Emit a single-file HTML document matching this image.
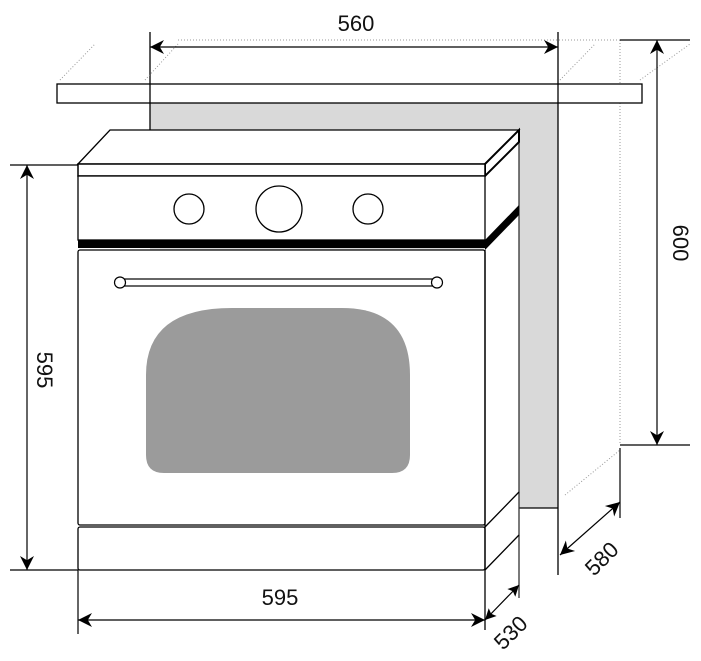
<!DOCTYPE html>
<html><head><meta charset="utf-8"><style>
html,body{margin:0;padding:0;background:#fff;}
svg{display:block;}
text{font-family:"Liberation Sans",sans-serif;font-size:22px;fill:#111;}
</style></head><body>
<svg width="701" height="661" viewBox="0 0 701 661" xmlns="http://www.w3.org/2000/svg">
<defs>
<marker id="a" viewBox="0 0 10 10" refX="10" refY="5" markerWidth="14" markerHeight="11" orient="auto-start-reverse" markerUnits="userSpaceOnUse"><path d="M0,0 L10,5 L0,10 L2,5 z" fill="#000"/></marker>
<marker id="b" viewBox="0 0 10 10" refX="10" refY="5" markerWidth="20" markerHeight="14" orient="auto-start-reverse" markerUnits="userSpaceOnUse"><path d="M0,0 L10,5 L0,10 L3,5 z" fill="#000"/></marker>
</defs>
<rect x="150" y="103" width="408" height="405" fill="#d9d9d9"/>
<line x1="150" y1="32" x2="150" y2="130" stroke="#000" stroke-width="1.3"/>
<line x1="558" y1="32" x2="558" y2="575" stroke="#000" stroke-width="1.3"/>
<line x1="512" y1="508" x2="558" y2="508" stroke="#000" stroke-width="1.2"/>
<g stroke="#999" stroke-width="1" stroke-dasharray="1,2" fill="none">
<line x1="178" y1="40" x2="620" y2="40"/>
<line x1="620" y1="40" x2="620" y2="445"/>
<line x1="60" y1="80" x2="95" y2="44"/>
<line x1="145" y1="80" x2="178" y2="44"/>
<line x1="560" y1="80" x2="595" y2="44"/>
<line x1="640" y1="80" x2="690" y2="44"/>
<line x1="565" y1="495" x2="620" y2="450"/>
</g>
<rect x="57" y="84" width="585" height="19" fill="#fff" stroke="#000" stroke-width="1.3"/>
<line x1="150" y1="84" x2="150" y2="103" stroke="#000" stroke-width="1.3"/>
<line x1="558" y1="84" x2="558" y2="103" stroke="#000" stroke-width="1.3"/>
<polygon points="485,164 519,130 519,598 485,630" fill="#fff" stroke="none"/>
<line x1="519" y1="130" x2="519" y2="598" stroke="#333" stroke-width="1.3"/>
<polygon points="78,164 110,130 519,130 485,164" fill="#fff" stroke="#000" stroke-width="1.3"/>
<polygon points="485,164 519,130 519,142 485,176" fill="#fff" stroke="#000" stroke-width="2"/>
<rect x="78" y="164" width="407" height="12" fill="#fff" stroke="#000" stroke-width="1.5"/>
<rect x="78" y="176" width="407" height="64" fill="#fff" stroke="#000" stroke-width="1.3"/>
<rect x="78" y="240" width="407" height="8" fill="#000"/>
<polygon points="485,240 519,205 519,215 485,250" fill="#000"/>
<circle cx="189" cy="209" r="15" fill="#fff" stroke="#000" stroke-width="1.3"/>
<circle cx="279" cy="209" r="23" fill="#fff" stroke="#000" stroke-width="1.3"/>
<circle cx="368" cy="209" r="15" fill="#fff" stroke="#000" stroke-width="1.3"/>
<rect x="78" y="250" width="407" height="275" rx="2" fill="#fff" stroke="#000" stroke-width="1.3"/>
<rect x="120" y="279" width="317" height="7" fill="#fff" stroke="#000" stroke-width="1.2"/>
<circle cx="120" cy="282.5" r="5.5" fill="#fff" stroke="#000" stroke-width="1.2"/>
<circle cx="437" cy="282.5" r="5.5" fill="#fff" stroke="#000" stroke-width="1.2"/>
<path d="M146,455 L146,375 Q146,308 232,308 L342,308 Q410,308 410,375 L410,455 Q410,473 392,473 L164,473 Q146,473 146,455 z" fill="#9b9b9b"/>
<rect x="78" y="527" width="407" height="43" rx="2" fill="#fff" stroke="#000" stroke-width="1.3"/>
<line x1="485" y1="250" x2="485" y2="630" stroke="#000" stroke-width="1.3"/>
<line x1="485" y1="527" x2="519" y2="492" stroke="#000" stroke-width="1.3"/>
<line x1="485" y1="570" x2="519" y2="535" stroke="#000" stroke-width="1.3"/>
<g stroke="#000" stroke-width="1.2">
<line x1="150" y1="47" x2="558" y2="47" marker-start="url(#b)" marker-end="url(#b)"/>
<line x1="620" y1="40" x2="690" y2="40"/>
<line x1="620" y1="445" x2="690" y2="445"/>
<line x1="657" y1="40" x2="657" y2="445" marker-start="url(#b)" marker-end="url(#b)"/>
<line x1="10" y1="165" x2="78" y2="165"/>
<line x1="10" y1="570" x2="78" y2="570"/>
<line x1="27" y1="165" x2="27" y2="570" marker-start="url(#b)" marker-end="url(#b)"/>
<line x1="78" y1="570" x2="78" y2="634"/>
<line x1="78" y1="620" x2="485" y2="620" marker-start="url(#b)" marker-end="url(#b)"/>
<line x1="485" y1="620" x2="519" y2="585" marker-start="url(#a)" marker-end="url(#a)"/>
<line x1="620" y1="448" x2="620" y2="518"/>
<line x1="560" y1="555" x2="620" y2="502" marker-start="url(#b)" marker-end="url(#b)"/>
</g>
<text x="356" y="31" text-anchor="middle">560</text>
<text x="280" y="605" text-anchor="middle">595</text>
<text transform="translate(37,370) rotate(90)" text-anchor="middle">595</text>
<text transform="translate(673,243) rotate(90)" text-anchor="middle">600</text>
<text transform="translate(516,638) rotate(-45)" text-anchor="middle">530</text>
<text transform="translate(607,564) rotate(-45)" text-anchor="middle">580</text>
</svg>
</body></html>
